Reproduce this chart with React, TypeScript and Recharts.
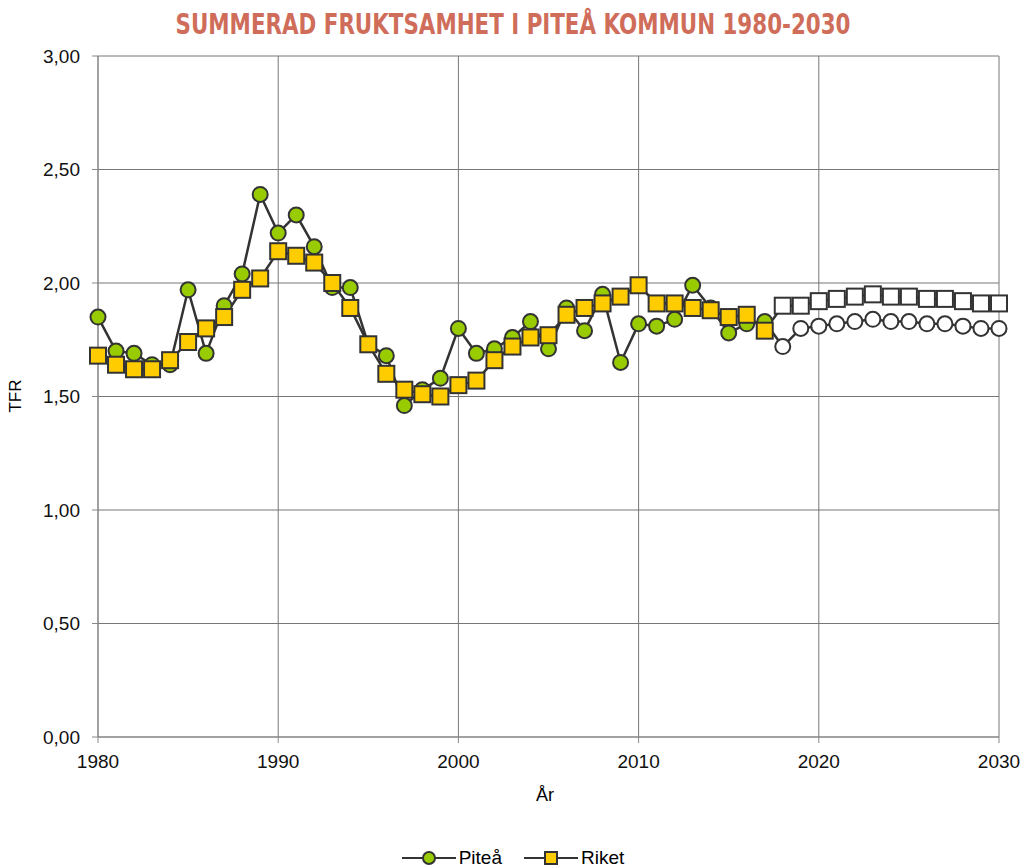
import { CartesianGrid, Line, LineChart, XAxis, YAxis } from "recharts";

const years = [
  1980, 1981, 1982, 1983, 1984, 1985, 1986, 1987, 1988, 1989,
  1990, 1991, 1992, 1993, 1994, 1995, 1996, 1997, 1998, 1999,
  2000, 2001, 2002, 2003, 2004, 2005, 2006, 2007, 2008, 2009,
  2010, 2011, 2012, 2013, 2014, 2015, 2016, 2017, 2018, 2019,
  2020, 2021, 2022, 2023, 2024, 2025, 2026, 2027, 2028, 2029, 2030,
];

// 1980-2017 utfall, 2018-2030 prognos
const pitea = [
  1.85, 1.70, 1.69, 1.64, 1.64, 1.97, 1.69, 1.90, 2.04, 2.39,
  2.22, 2.30, 2.16, 1.98, 1.98, 1.73, 1.68, 1.46, 1.53, 1.58,
  1.80, 1.69, 1.71, 1.76, 1.83, 1.71, 1.89, 1.79, 1.95, 1.65,
  1.82, 1.81, 1.84, 1.99, 1.89, 1.78, 1.82, 1.83, 1.72, 1.80,
  1.81, 1.82, 1.83, 1.84, 1.83, 1.83, 1.82, 1.82, 1.81, 1.80, 1.80,
];

const riket = [
  1.68, 1.64, 1.62, 1.62, 1.66, 1.74, 1.80, 1.85, 1.97, 2.02,
  2.14, 2.12, 2.09, 2.00, 1.89, 1.73, 1.60, 1.53, 1.51, 1.50,
  1.55, 1.57, 1.66, 1.72, 1.76, 1.77, 1.86, 1.89, 1.91, 1.94,
  1.99, 1.91, 1.91, 1.89, 1.88, 1.85, 1.86, 1.79, 1.90, 1.90,
  1.92, 1.93, 1.94, 1.95, 1.94, 1.94, 1.93, 1.93, 1.92, 1.91, 1.91,
];

const prognosFrom = 2018;
const xTicks = [1980, 1990, 2000, 2010, 2020, 2030];
const yTicks = [0, 0.5, 1, 1.5, 2, 2.5, 3];

const data = years.map((year, i) => ({ year, pitea: pitea[i], riket: riket[i] }));

const font = "'Liberation Sans', Arial, sans-serif";
const lineColor = "#333333";

function CircleDot(props: any) {
  const { cx, cy, payload } = props;
  if (cx == null || cy == null) return null;
  const fill = payload.year >= prognosFrom ? "#ffffff" : "#99cc00";
  return <circle key={`p${payload.year}`} cx={cx} cy={cy} r={7.5} fill={fill} stroke={lineColor} strokeWidth={2} />;
}

function SquareDot(props: any) {
  const { cx, cy, payload } = props;
  if (cx == null || cy == null) return null;
  const fill = payload.year >= prognosFrom ? "#ffffff" : "#ffcc00";
  return (
    <rect key={`r${payload.year}`} x={cx - 8} y={cy - 8} width={16} height={16} fill={fill} stroke={lineColor} strokeWidth={2} />
  );
}

function LegendItem({ label, shape, color }: { label: string; shape: "circle" | "square"; color: string }) {
  return (
    <span style={{ display: "inline-flex", alignItems: "center", margin: "0 11px" }}>
      <svg width={54} height={16}>
        <line x1={0} y1={8} x2={54} y2={8} stroke={lineColor} strokeWidth={2} />
        {shape === "circle" ? (
          <circle cx={27} cy={8} r={6} fill={color} stroke={lineColor} strokeWidth={2} />
        ) : (
          <rect x={21} y={2} width={12} height={12} fill={color} stroke={lineColor} strokeWidth={2} />
        )}
      </svg>
      <span style={{ marginLeft: 3 }}>{label}</span>
    </span>
  );
}

export default function App() {
  const tick = { fill: "#111", fontSize: 19, fontFamily: font };
  return (
    <div style={{ position: "absolute", left: 0, top: 0, width: 1026, height: 868, background: "#fff", fontFamily: font }}>
      <div
        style={{
          position: "absolute",
          top: 7,
          left: 0,
          width: 1026,
          textAlign: "center",
          color: "#cf6d5a",
          fontWeight: "bold",
          fontSize: 29,
          fontFamily: "'DejaVu Sans Condensed', 'DejaVu Sans', sans-serif",
          transform: "scaleX(0.82)",
          transformOrigin: "513px 0",
          whiteSpace: "nowrap",
        }}
      >
        SUMMERAD FRUKTSAMHET I PITEÅ KOMMUN 1980-2030
      </div>
      <LineChart width={1026} height={868} data={data} margin={{ top: 56, right: 27, left: 0, bottom: 61 }}>
        <CartesianGrid stroke="#777" strokeWidth={1} horizontalValues={yTicks} verticalValues={xTicks} />
        <XAxis
          dataKey="year"
          type="number"
          domain={[1980, 2030]}
          ticks={xTicks}
          tick={tick}
          tickSize={6}
          tickMargin={12}
          stroke="#888"
          height={70}
          interval={0}
        />
        <YAxis
          domain={[0, 3]}
          ticks={yTicks}
          tick={tick}
          tickSize={6}
          tickMargin={12}
          stroke="#888"
          width={98}
          interval={0}
          tickFormatter={(v: number) => v.toFixed(2).replace(".", ",")}
        />
        <Line dataKey="pitea" name="Piteå" stroke={lineColor} strokeWidth={2.5} dot={<CircleDot />} isAnimationActive={false} />
        <Line dataKey="riket" name="Riket" stroke={lineColor} strokeWidth={2.5} dot={<SquareDot />} isAnimationActive={false} />
      </LineChart>
      <div
        style={{
          position: "absolute",
          left: 6,
          top: 396,
          fontSize: 17,
          transform: "translate(-50%, -50%) rotate(-90deg)",
          transformOrigin: "center",
          marginLeft: 10,
        }}
      >
        TFR
      </div>
      <div style={{ position: "absolute", top: 785, left: 520, width: 50, textAlign: "center", fontSize: 18 }}>År</div>
      <div style={{ position: "absolute", top: 847, left: 0, width: 1026, textAlign: "center", fontSize: 19, display: "flex", justifyContent: "center" }}>
        <LegendItem label="Piteå" shape="circle" color="#99cc00" />
        <LegendItem label="Riket" shape="square" color="#ffcc00" />
      </div>
    </div>
  );
}
